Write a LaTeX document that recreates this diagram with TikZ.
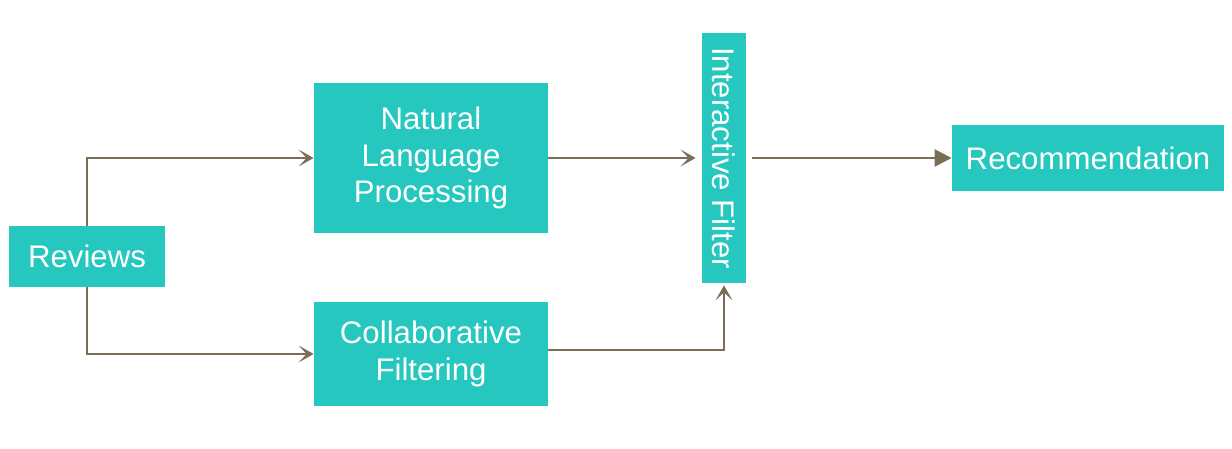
\documentclass[tikz,border=0pt]{standalone}
\usepackage{fontspec}
\setmainfont{Liberation Sans}
\usetikzlibrary{arrows.meta}
\definecolor{teal}{RGB}{38,199,190}
\definecolor{linec}{RGB}{122,110,86}
\begin{document}
\begin{tikzpicture}[x=0.5pt,y=-0.5pt,
  box/.style={fill=teal, draw=none, text=white, align=center, inner sep=0pt,
    font=\fontsize{15.6}{18.3}\selectfont},
  arr/.style={draw=linec, line width=1.25pt, -{Stealth[length=7.5pt,width=8.5pt,inset=4pt]}},
  tri/.style={draw=linec, line width=1.25pt, -{Triangle[length=8.5pt,width=8.5pt]}}]
\useasboundingbox (0,0) rectangle (1232,449);
\node[box, minimum width=78pt, minimum height=30.5pt] (rev) at (87,256.5) {Reviews};
\node[box, minimum width=117pt, minimum height=75pt] (nlp) at (431,158) {Natural\\Language\\Processing};
\node[box, minimum width=117pt, minimum height=52pt] (cf) at (431,354) {Collaborative\\Filtering};
\node[box, rotate=-90, minimum width=125pt, minimum height=22pt] (if) at (724,158) {Interactive Filter};
\node[box, minimum width=136pt, minimum height=33pt] (rec) at (1088,158) {Recommendation};
\draw[arr] (rev.north) |- (nlp.west);
\draw[arr] (rev.south) |- (cf.west);
\draw[arr, shorten >=3pt] (nlp) -- (if);
\draw[arr, shorten >=1pt] ([yshift=2pt]cf.east) -| (if.east);
\draw[tri, shorten <=3pt] (if) -- (rec);
\end{tikzpicture}
\end{document}
